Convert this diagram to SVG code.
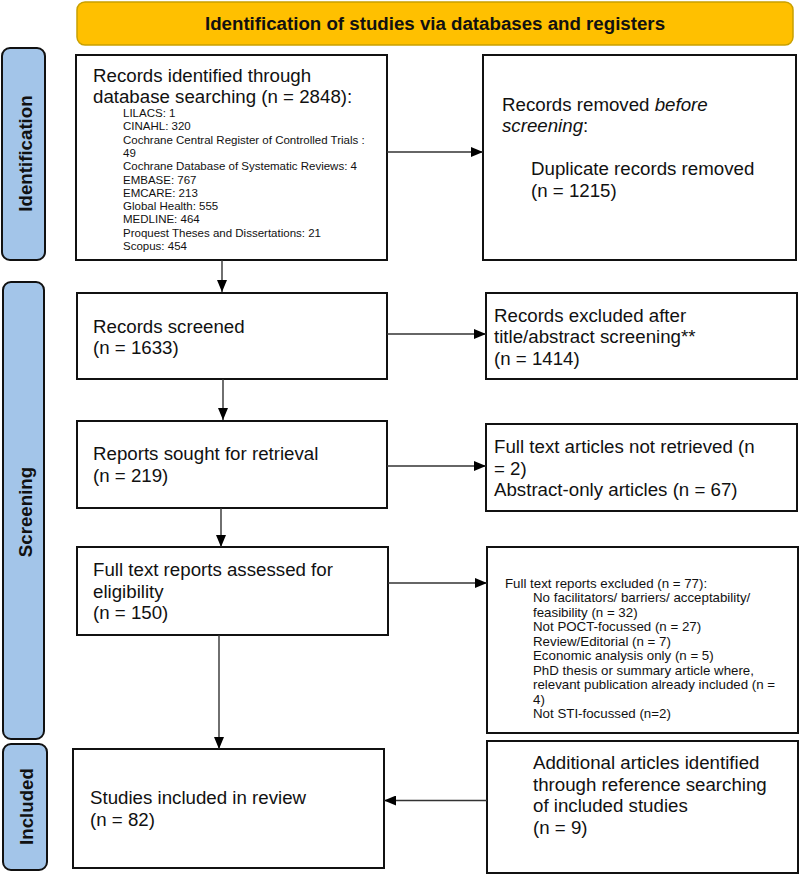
<svg xmlns="http://www.w3.org/2000/svg" width="800" height="875" viewBox="0 0 800 875">
<defs>
<style>
.box{fill:#fff;stroke:#111;stroke-width:2}
.side{fill:#a3c5e9;stroke:#111;stroke-width:2}
.t{font-family:"Liberation Sans",Arial,sans-serif;font-size:18.7px;fill:#111}
.s{font-family:"Liberation Sans",Arial,sans-serif;font-size:11.5px;fill:#111}
.m{font-family:"Liberation Sans",Arial,sans-serif;font-size:13.3px;fill:#111}
.b{font-family:"Liberation Sans",Arial,sans-serif;font-size:18.7px;font-weight:bold;fill:#111}
.c{stroke:#333;stroke-width:1.4;fill:none}
</style>
<marker id="ah" viewBox="0 0 12 10" refX="12" refY="5" markerWidth="12" markerHeight="10" markerUnits="userSpaceOnUse" orient="auto">
<path d="M0,0 L12,5 L0,10 z" fill="#000"/>
</marker>
</defs>
<rect width="800" height="875" fill="#fff"/>

<g id="banner">
<rect x="77" y="2" width="716" height="43" rx="8" fill="#ffc000" stroke="#c9a000" stroke-width="1.5"/>
<text class="b" x="435" y="30" text-anchor="middle">Identification of studies via databases and registers</text>
</g>

<g id="side-identification">
<rect class="side" x="2" y="48" width="43" height="212" rx="8"/>
<text class="b" transform="translate(32,153.5) rotate(-90)" text-anchor="middle">Identification</text>
</g>
<g id="side-screening">
<rect class="side" x="3" y="282" width="41" height="457" rx="8"/>
<text class="b" transform="translate(32,512) rotate(-90)" text-anchor="middle">Screening</text>
</g>
<g id="side-included">
<rect class="side" x="3" y="744" width="44" height="126" rx="8"/>
<text class="b" transform="translate(33,806.5) rotate(-90)" text-anchor="middle">Included</text>
</g>

<g id="identified">
<rect class="box" x="76" y="55" width="311" height="205"/>
<text class="t" x="93" y="81.7">Records identified through</text>
<text class="t" x="93" y="103.3">database searching (n = 2848):</text>
<text class="s" x="123" y="117">LILACS: 1</text>
<text class="s" x="123" y="130.3">CINAHL: 320</text>
<text class="s" x="123" y="143.6">Cochrane Central Register of Controlled Trials :</text>
<text class="s" x="123" y="156.9">49</text>
<text class="s" x="123" y="170.2">Cochrane Database of Systematic Reviews: 4</text>
<text class="s" x="123" y="183.5">EMBASE: 767</text>
<text class="s" x="123" y="196.8">EMCARE: 213</text>
<text class="s" x="123" y="210.1">Global Health: 555</text>
<text class="s" x="123" y="223.4">MEDLINE: 464</text>
<text class="s" x="123" y="236.7">Proquest Theses and Dissertations: 21</text>
<text class="s" x="123" y="250">Scopus: 454</text>
</g>

<g id="removed">
<rect class="box" x="483" y="55" width="313" height="205"/>
<text class="t" x="502" y="111">Records removed <tspan font-style="italic">before</tspan></text>
<text class="t" x="502" y="132"><tspan font-style="italic">screening</tspan>:</text>
<text class="t" x="531" y="175">Duplicate records removed</text>
<text class="t" x="531" y="196.7">(n = 1215)</text>
</g>

<g id="screened">
<rect class="box" x="77" y="293" width="310" height="86"/>
<text class="t" x="93" y="332.7">Records screened</text>
<text class="t" x="93" y="354">(n = 1633)</text>
</g>

<g id="excluded-title">
<rect class="box" x="486" y="293" width="311" height="86"/>
<text class="t" x="494" y="321.7">Records excluded after</text>
<text class="t" x="494" y="343.3">title/abstract screening**</text>
<text class="t" x="494" y="365">(n = 1414)</text>
</g>

<g id="sought">
<rect class="box" x="77" y="421" width="310" height="87"/>
<text class="t" x="93" y="460">Reports sought for retrieval</text>
<text class="t" x="93" y="481.7">(n = 219)</text>
</g>

<g id="not-retrieved">
<rect class="box" x="486" y="424" width="311" height="87"/>
<text class="t" x="494" y="453">Full text articles not retrieved (n</text>
<text class="t" x="494" y="474.7">= 2)</text>
<text class="t" x="494" y="496.4">Abstract-only articles (n = 67)</text>
</g>

<g id="assessed">
<rect class="box" x="77" y="547" width="311" height="88"/>
<text class="t" x="93" y="576">Full text reports assessed for</text>
<text class="t" x="93" y="597.5">eligibility</text>
<text class="t" x="93" y="619">(n = 150)</text>
</g>

<g id="excluded-full">
<rect class="box" x="487" y="547" width="311" height="186"/>
<text class="m" x="505" y="587.7">Full text reports excluded (n = 77):</text>
<text class="m" x="533" y="602.2">No facilitators/ barriers/ acceptability/</text>
<text class="m" x="533" y="616.7">feasibility (n = 32)</text>
<text class="m" x="533" y="631.2">Not POCT-focussed (n = 27)</text>
<text class="m" x="533" y="645.7">Review/Editorial (n = 7)</text>
<text class="m" x="533" y="660.2">Economic analysis only (n = 5)</text>
<text class="m" x="533" y="674.7">PhD thesis or summary article where,</text>
<text class="m" x="533" y="689.2">relevant publication already included (n =</text>
<text class="m" x="533" y="703.7">4)</text>
<text class="m" x="533" y="718.2">Not STI-focussed (n=2)</text>
</g>

<g id="included">
<rect class="box" x="73" y="749" width="311" height="119"/>
<text class="t" x="90" y="804">Studies included in review</text>
<text class="t" x="90" y="826">(n = 82)</text>
</g>

<g id="additional">
<rect class="box" x="487" y="741" width="311" height="132" stroke-width="2.5"/>
<text class="t" x="533" y="769">Additional articles identified</text>
<text class="t" x="533" y="790.7">through reference searching</text>
<text class="t" x="533" y="812.4">of included studies</text>
<text class="t" x="533" y="834">(n = 9)</text>
</g>

<g id="connectors">
<line class="c" x1="387" y1="152" x2="483" y2="152" marker-end="url(#ah)"/>
<line class="c" x1="222" y1="260" x2="222" y2="292" marker-end="url(#ah)"/>
<line class="c" x1="387" y1="334" x2="486" y2="334" marker-end="url(#ah)"/>
<line class="c" x1="223" y1="379" x2="223" y2="420" marker-end="url(#ah)"/>
<line class="c" x1="387" y1="466" x2="486" y2="466" marker-end="url(#ah)"/>
<line class="c" x1="221" y1="508" x2="221" y2="547" marker-end="url(#ah)"/>
<line class="c" x1="388" y1="583" x2="487" y2="583" marker-end="url(#ah)"/>
<line class="c" x1="219" y1="635" x2="219" y2="749" marker-end="url(#ah)"/>
<line class="c" x1="487" y1="800.5" x2="384" y2="800.5" marker-end="url(#ah)"/>
</g>
</svg>
